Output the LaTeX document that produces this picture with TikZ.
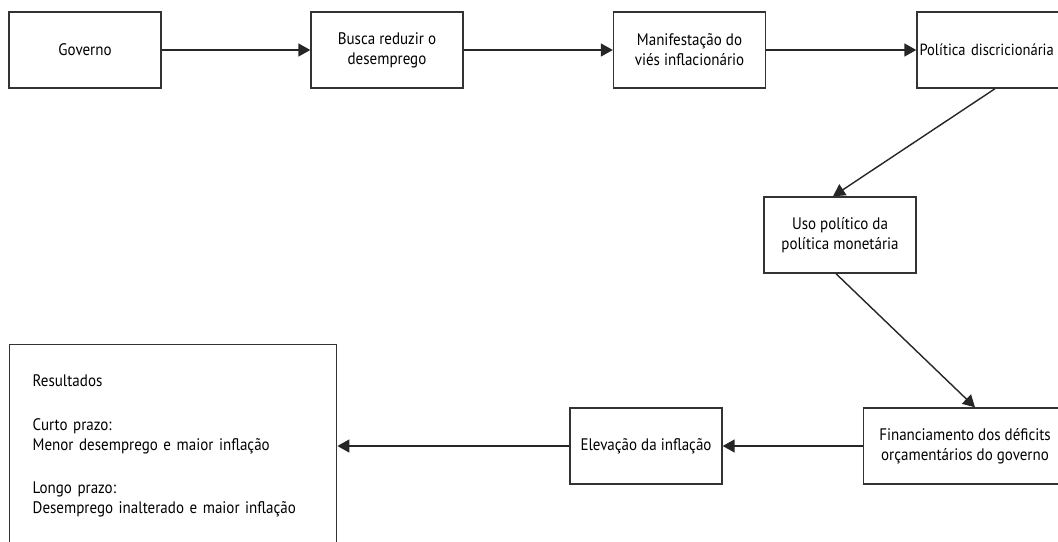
\documentclass[tikz,border=0pt]{standalone}
\usepackage{fontspec}
\setmainfont[FakeStretch=0.9]{PT Sans}
\usetikzlibrary{arrows.meta}
\tikzset{caixa/.style={draw=black!80, line width=0.8pt, minimum width=3.04cm, minimum height=1.52cm, align=center, font=\fontsize{9.5}{11.4}\selectfont},
seta/.style={draw=black!85, line width=0.8pt, -{Triangle[length=6.8pt,width=7.4pt]}}}
\begin{document}
\begin{tikzpicture}
\useasboundingbox (0,0) rectangle (21.16,-10.82);
\clip (0,0) rectangle (21.16,-10.82);
\node[caixa] (governo) at (1.7,-1) {Governo};
\node[caixa] (busca) at (7.74,-1) {Busca reduzir o\\desemprego};
\node[caixa] (vies) at (13.79,-1) {Manifestação do\\viés inflacionário};
\node[caixa, inner xsep=0.05cm, text width=3.34cm, align=left, font=\fontsize{9.2}{11.4}\selectfont] (discr) at (20.06,-1) {Política discricionária};
\node[caixa] (uso) at (16.8,-4.7) {Uso político da\\política monetária};
\node[caixa, minimum width=4.06cm] (financ) at (19.3,-8.92) {Financiamento dos déficits\\orçamentários do governo};
\node[caixa] (elev) at (12.92,-8.92) {Elevação da inflação};
\node[caixa, anchor=north west, minimum width=6.54cm, minimum height=4.04cm, inner xsep=0.46cm, text width=5.62cm, align=left] (result) at (0.18,-6.88) {Resultados\\[13.6pt]
Curto prazo:\\Menor desemprego e maior inflação\\[13pt]
Longo prazo:\\Desemprego inalterado e maior inflação};
\draw[seta] (governo) -- (busca);
\draw[seta] (busca) -- (vies);
\draw[seta] (vies) -- (discr);
\draw[seta] ([xshift=-0.16cm]discr.south) -- ([xshift=-0.14cm]uso.north);
\draw[seta] ([xshift=-0.08cm]uso.south) -- ([xshift=0.2cm]financ.north);
\draw[seta] (financ) -- (elev);
\draw[seta] (elev.west) -- (elev.west -| result.east);
\end{tikzpicture}
\end{document}
